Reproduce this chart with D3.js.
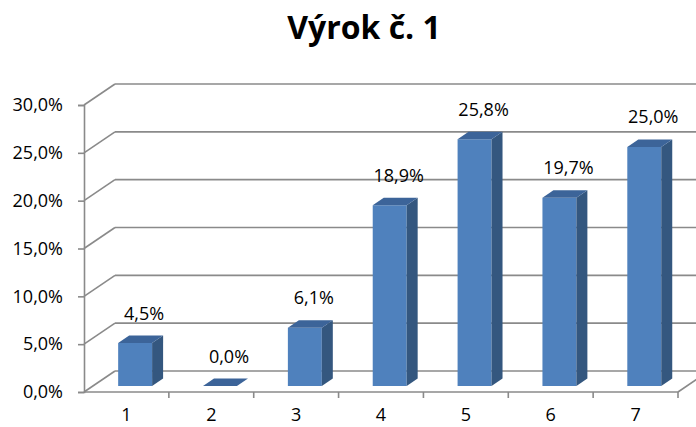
<!DOCTYPE html>
<html>
<head>
<meta charset="utf-8">
<script src="https://cdn.jsdelivr.net/npm/d3@7"></script>
<style>
  body { margin: 0; background: #fff; }
  svg { display: block; }
</style>
</head>
<body>
<div id="chart"></div>
<script>
'use strict';

var title = 'Výrok č. 1';
var categories = ['1', '2', '3', '4', '5', '6', '7'];
var values = [0.045, 0.0, 0.061, 0.189, 0.258, 0.197, 0.250];
var yTicks = [0, 0.05, 0.10, 0.15, 0.20, 0.25, 0.30];

var w = 696, h = 427;
var depthX = 31, depthY = -21;       // back wall offset
var barOffX = 8.7, barOffY = -5.9;   // bar front face position in depth
var barDX = 11, barDY = -7.5;        // bar depth
var font = 'Open Sans, sans-serif';
var fs = '18px';

var fmt = function (v) {
    return d3.format('.1f')(v * 100).replace('.', ',') + '%';
};

var svg = d3.select('#chart')
        .append('svg')
        .attr('width', w)
        .attr('height', h);

var x = d3.scaleBand()
        .domain(categories)
        .range([84, 678])
        .paddingInner(0.6)
        .paddingOuter(0.3);

var y = d3.scaleLinear()
        .domain([0, 0.30])
        .range([392, 105]);

var gridColor = '#8a8a8a';
var x0 = x.range()[0], x1 = x.range()[1];

// back wall gridlines + left wall diagonals
var grid = svg.append('g')
        .attr('stroke', gridColor)
        .attr('stroke-width', 1.6)
        .attr('fill', 'none');

grid.selectAll('line.back')
        .data(yTicks)
        .enter()
        .append('line')
        .attr('x1', x0 + depthX)
        .attr('x2', x1 + depthX)
        .attr('y1', function (d) { return y(d) + depthY; })
        .attr('y2', function (d) { return y(d) + depthY; });

grid.selectAll('line.side')
        .data(yTicks)
        .enter()
        .append('line')
        .attr('x1', x0)
        .attr('x2', x0 + depthX)
        .attr('y1', function (d) { return y(d); })
        .attr('y2', function (d) { return y(d) + depthY; });

// floor right edge
grid.append('line')
        .attr('x1', x1).attr('y1', y(0))
        .attr('x2', x1 + depthX).attr('y2', y(0) + depthY);

// y axis
var yAxis = d3.axisLeft(y)
        .tickValues(yTicks)
        .tickFormat(fmt)
        .tickSize(6)
        .tickPadding(15);

var gy = svg.append('g')
        .attr('transform', 'translate(' + x0 + ',0)')
        .call(yAxis);
gy.attr('font-size', fs).attr('font-family', font);
gy.select('.domain').attr('stroke', gridColor).attr('stroke-width', 1.6);
gy.selectAll('.tick line').attr('stroke', gridColor).attr('stroke-width', 1.6);
gy.selectAll('.tick text')
        .style('font-size', fs)
        .style('font-family', font)
        .attr('fill', '#000');

// x axis (ticks at category boundaries)
var bounds = categories.map(function (c) { return x(c) + x.bandwidth() + x.step() * 0.3; });
var gx = svg.append('g');
gx.append('line')
        .attr('x1', x0).attr('x2', x1)
        .attr('y1', y(0)).attr('y2', y(0))
        .attr('stroke', gridColor).attr('stroke-width', 1.6);
gx.selectAll('line.tk')
        .data(bounds)
        .enter()
        .append('line')
        .attr('x1', function (d) { return d; })
        .attr('x2', function (d) { return d; })
        .attr('y1', y(0)).attr('y2', y(0) + 6)
        .attr('stroke', gridColor).attr('stroke-width', 1.6);
gx.selectAll('text')
        .data(categories)
        .enter()
        .append('text')
        .attr('x', function (d) { return x(d) + x.bandwidth() / 2; })
        .attr('y', 421)
        .attr('text-anchor', 'middle')
        .style('font-family', font)
        .style('font-size', fs)
        .text(function (d) { return d; });

// bars
var bw = x.bandwidth();
var yb = y(0) + barOffY;
var bars = svg.selectAll('g.bar')
        .data(values)
        .enter()
        .append('g');

function pts(arr) {
    return arr.map(function (p) { return p[0] + ',' + p[1]; }).join(' ');
}

bars.append('polygon')
        .attr('fill', '#4f81bd')
        .attr('points', function (d, i) {
            var bx = x(categories[i]) + barOffX, yt = y(d) + barOffY;
            return pts([[bx, yb], [bx, yt], [bx + bw, yt], [bx + bw, yb]]);
        });

bars.append('polygon')
        .attr('fill', '#34577f')
        .attr('points', function (d, i) {
            var bx = x(categories[i]) + barOffX + bw, yt = y(d) + barOffY;
            return pts([[bx, yb], [bx, yt], [bx + barDX, yt + barDY], [bx + barDX, yb + barDY]]);
        });

bars.append('polygon')
        .attr('fill', '#3c6499')
        .attr('points', function (d, i) {
            var bx = x(categories[i]) + barOffX, yt = y(d) + barOffY;
            return pts([[bx, yt], [bx + bw, yt], [bx + bw + barDX, yt + barDY], [bx + barDX, yt + barDY]]);
        });

// data labels
svg.selectAll('text.lbl')
        .data(values)
        .enter()
        .append('text')
        .attr('x', function (d, i) { return x(categories[i]) + barOffX + bw / 2 + 9; })
        .attr('y', function (d) { return y(d) + barOffY + barDY - 16; })
        .attr('text-anchor', 'middle')
        .style('font-family', font)
        .style('font-size', fs)
        .attr('fill', '#000')
        .text(fmt);

// title
svg.append('text')
        .attr('x', 364)
        .attr('y', 39)
        .attr('text-anchor', 'middle')
        .style('font-family', font)
        .style('font-weight', 'bold')
        .style('font-size', '32px')
        .text(title);
</script>
</body>
</html>
